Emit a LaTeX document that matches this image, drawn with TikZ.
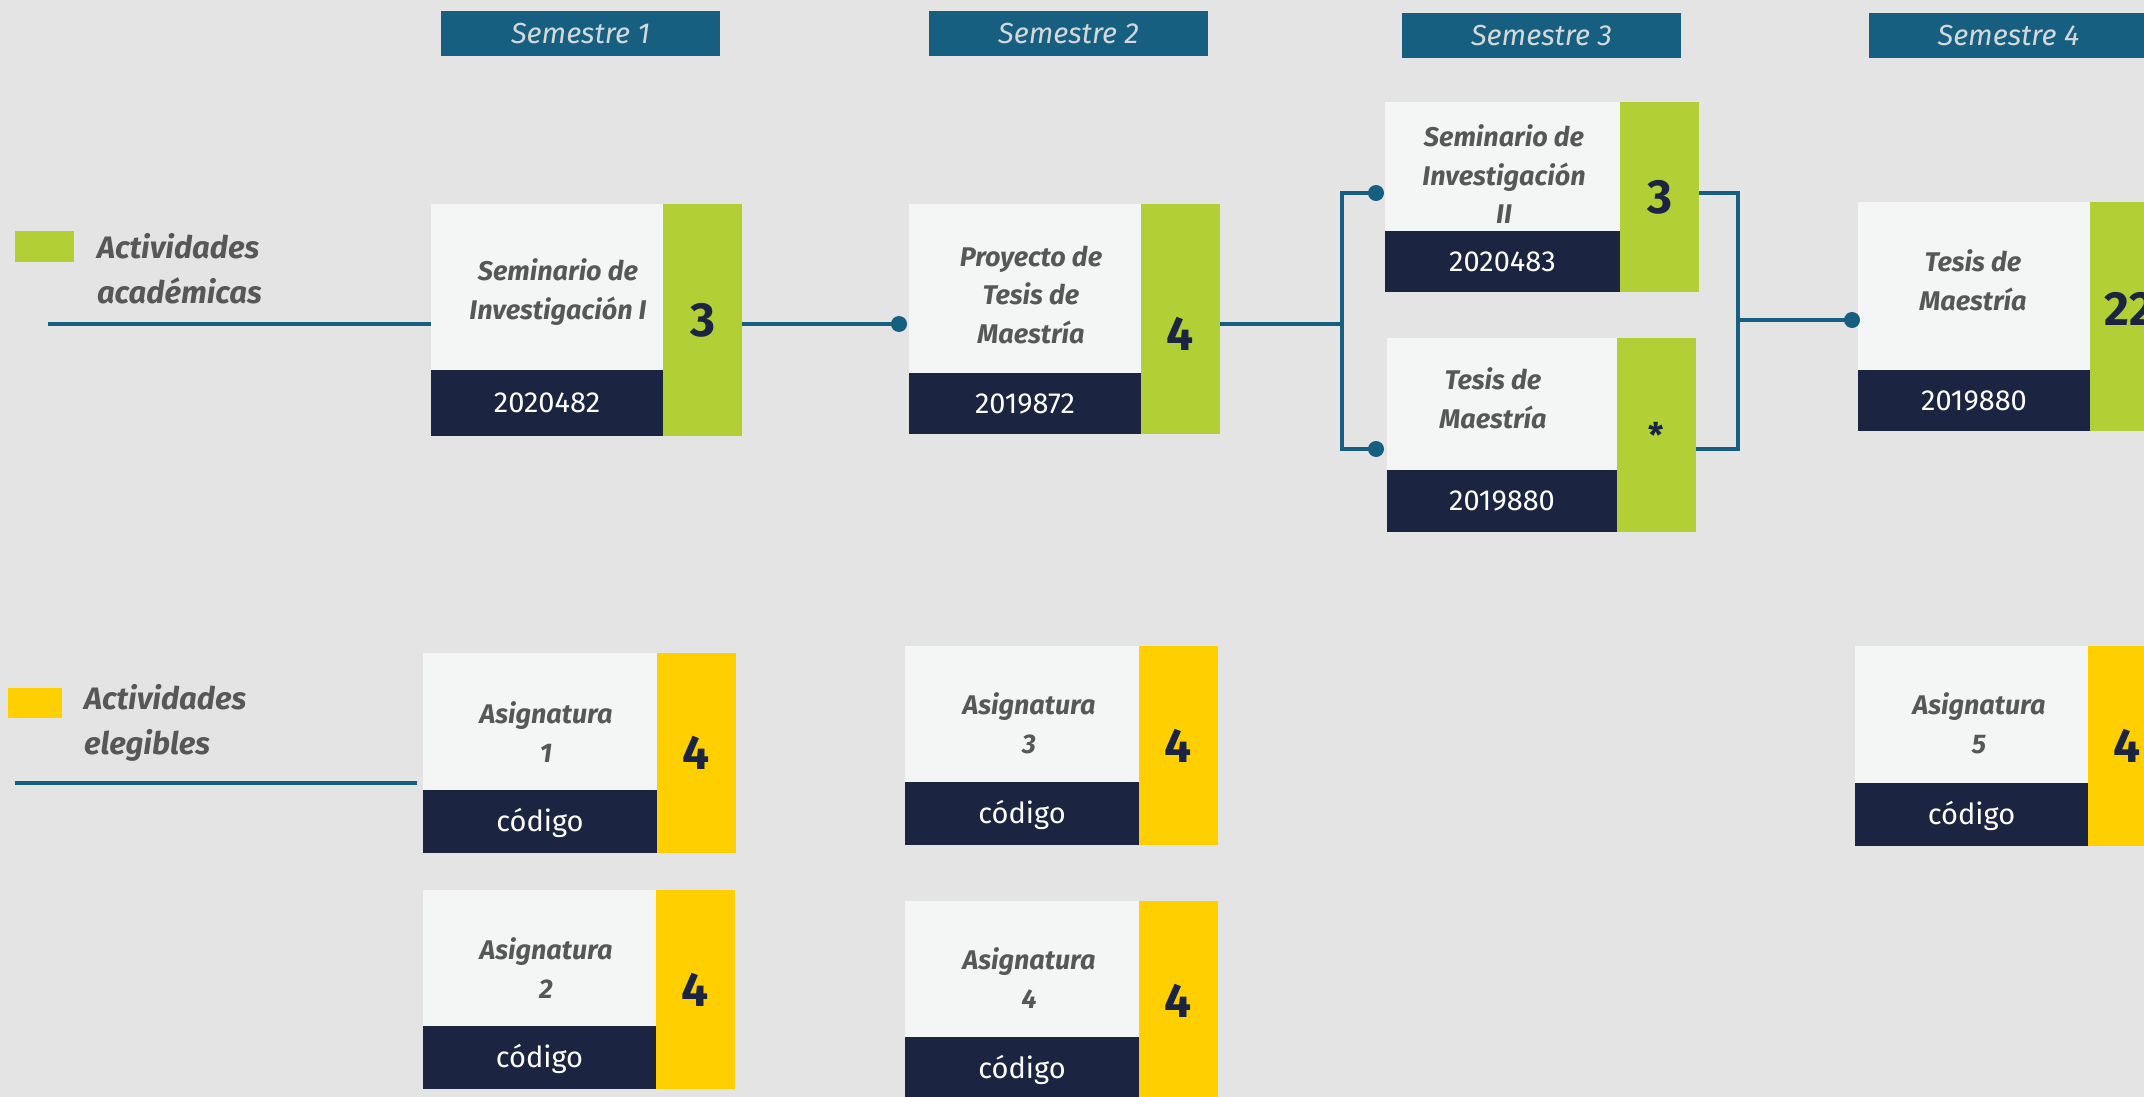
\documentclass[tikz,border=0pt]{standalone}
\usepackage{fontspec}
\setmainfont{Fira Sans}
\usetikzlibrary{calc}
\definecolor{bgc}{HTML}{E4E4E4}
\definecolor{teal}{HTML}{175F80}
\definecolor{hdrtext}{HTML}{D3D8DB}
\definecolor{cardw}{HTML}{F3F6F5}
\definecolor{navy}{HTML}{1B2541}
\definecolor{acgreen}{HTML}{B2CF36}
\definecolor{elyellow}{HTML}{FFCF00}
\definecolor{tgray}{HTML}{575757}
\tikzset{
  every node/.style={inner sep=0pt, outer sep=0pt},
  hdr/.style={fill=teal, anchor=north west, minimum width=279pt, minimum height=45pt,
    text=hdrtext, font=\fontsize{29}{35}\selectfont\itshape},
  wpart/.style={fill=cardw, anchor=north west},
  dpart/.style={fill=navy, anchor=north west},
  bpart/.style={fill=#1, anchor=north west, minimum width=79pt},
  titlet/.style={anchor=north, align=center, text=tgray,
    font=\fontsize{27}{38.5}\selectfont\bfseries\itshape},
  codet/.style={text=white, text height=19pt, text depth=0pt, font=\fontsize{29}{34}\selectfont},
  numt/.style={text=navy, font=\fontsize{48}{56}\selectfont\bfseries},
  legsq/.style={anchor=north west},
  legt/.style={anchor=north west, align=left, text=tgray,
    font=\fontsize{31}{45}\selectfont\bfseries\itshape},
  conn/.style={draw=teal, line width=4pt},
  jdot/.style={circle, fill=teal, minimum size=16pt}
}
\newcommand{\card}[7]{%
  \node[wpart, minimum width=#4pt, minimum height=#5pt] (#1w) at (#2,#3) {};
  \node[dpart, minimum width=#4pt, minimum height=#6pt] (#1d) at (#1w.south west) {};
  \node[bpart=#7, minimum height=#5pt+#6pt] (#1b) at (#1w.north east) {};
}
\begin{document}
\begin{tikzpicture}[x=1pt,y=-1pt]
\fill[bgc] (0,0) rectangle (2144,1097);
\useasboundingbox (0,0) rectangle (2144,1097);

% headers
\node[hdr] (h1) at (441,11) {Semestre 1};
\node[hdr] (h2) at (929,11) {Semestre 2};
\node[hdr] (h3) at (1402,13) {Semestre 3};
\node[hdr] (h4) at (1869,13) {Semestre 4};

% legend
\node[legsq, fill=acgreen, minimum width=59pt, minimum height=31pt] (lg1) at (15,231) {};
\node[legt] (lt1) at (97,233) {Actividades\\académicas};
\node[legsq, fill=elyellow, minimum width=54pt, minimum height=30pt] (lg2) at (8,688) {};
\node[legt] (lt2) at (84,684) {Actividades\\elegibles};

% cards
\card{c1}{431}{204}{232}{166}{66}{acgreen}
\card{c2}{909}{204}{232}{169}{61}{acgreen}
\card{c3a}{1385}{102}{235}{129}{61}{acgreen}
\card{c3b}{1387}{338}{230}{132}{62}{acgreen}
\card{c4}{1858}{202}{232}{168}{61}{acgreen}
\card{a1}{423}{653}{234}{137}{63}{elyellow}
\card{a2}{423}{890}{233}{136}{63}{elyellow}
\card{a3}{905}{646}{234}{136}{63}{elyellow}
\card{a4}{905}{901}{234}{136}{63}{elyellow}
\card{a5}{1855}{646}{233}{137}{63}{elyellow}

% titles
\node[titlet] (c1t) at (558,259) {Seminario de\\Investigación I};
\node[titlet] (c2t) at (1031,246) {Proyecto de\\Tesis de\\Maestría};
\node[titlet] (c3at) at (1504,125) {Seminario de\\Investigación\\II};
\node[titlet] (c3bt) at (1493,368) {Tesis de\\Maestría};
\node[titlet] (c4t) at (1973,250) {Tesis de\\Maestría};
\node[titlet] (a1t) at (546,702) {Asignatura\\1};
\node[titlet] (a2t) at (546,938) {Asignatura\\2};
\node[titlet] (a3t) at (1029,693) {Asignatura\\3};
\node[titlet] (a4t) at (1029,948) {Asignatura\\4};
\node[titlet] (a5t) at (1979,693) {Asignatura\\5};

% codes
\node[codet] (c1c) at (c1d.center) {2020482};
\node[codet] (c2c) at (c2d.center) {2019872};
\node[codet] (c3ac) at (c3ad.center) {2020483};
\node[codet] (c3bc) at (c3bd.center) {2019880};
\node[codet] (c4c) at (c4d.center) {2019880};
\node[codet] (a1c) at (a1d.center) {código};
\node[codet] (a2c) at (a2d.center) {código};
\node[codet] (a3c) at (a3d.center) {código};
\node[codet] (a4c) at (a4d.center) {código};
\node[codet] (a5c) at (a5d.center) {código};

% numbers
\node[numt] (c1n) at (c1b.center) {3};
\node[numt, yshift=-15pt] (c2n) at (c2b.center) {4};
\node[numt] (c3an) at (c3ab.center) {3};
\node[numt, font=\fontsize{34}{40}\selectfont\bfseries] (c3bn) at (c3bb.center) {*};
\node[numt, yshift=8pt] (c4n) at (c4b.center) {22};
\node[numt] (a1n) at (a1b.center) {4};
\node[numt] (a2n) at (a2b.center) {4};
\node[numt] (a3n) at (a3b.center) {4};
\node[numt] (a4n) at (a4b.center) {4};
\node[numt] (a5n) at (a5b.center) {4};

% connectors
\coordinate (l1s) at (48,324);
\coordinate (l2s) at (15,783);
\coordinate (l2e) at (417,783);
\coordinate (j1) at (1342,324);
\coordinate (j2) at (1738,320);
\draw[conn] (l1s) -- (l1s -| c1w.west);
\draw[conn] (l2s) -- (l2e);
\node[jdot] (d2) at (899,324) {};
\node[jdot] (d3a) at (1376,193) {};
\node[jdot] (d3b) at (1376,449) {};
\node[jdot] (d4) at (1852,320) {};
\draw[conn] (c1b.east |- d2) -- (d2.center);
\draw[conn] (c2b.east |- j1) -- (j1);
\draw[conn] (d3a.center) -- (d3a -| j1) -- (d3b -| j1) -- (d3b.center);
\draw[conn] (c3ab.east |- d3a) -- (d3a -| j2) -- (d3b -| j2) -- (c3bb.east |- d3b);
\draw[conn] (j2) -- (d4.center);
\end{tikzpicture}
\end{document}
